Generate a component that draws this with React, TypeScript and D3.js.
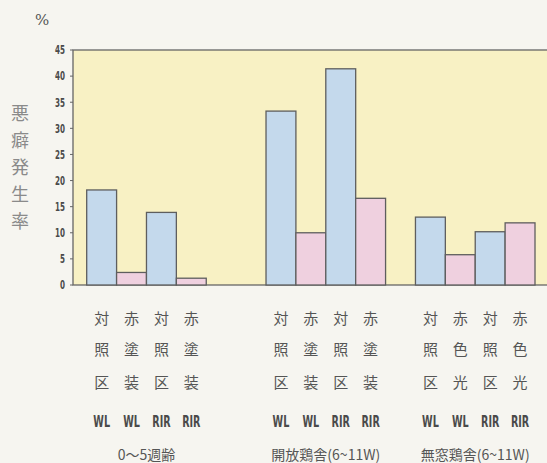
import React from 'react';
import * as d3 from 'd3';

// slot ids (including empty spacer slots between groups)
const slots = ['a1', 'a2', 'a3', 'a4', 'g1', 'g2', 'b1', 'b2', 'b3', 'b4', 'g3', 'c1', 'c2', 'c3', 'c4'];
const barSlots = ['a1', 'a2', 'a3', 'a4', 'b1', 'b2', 'b3', 'b4', 'c1', 'c2', 'c3', 'c4'];
const barValues = [18.2, 2.4, 13.9, 1.3, 33.3, 10.0, 41.4, 16.6, 13.0, 5.8, 10.2, 11.9];
const barKinds = ['control', 'red', 'control', 'red', 'control', 'red', 'control', 'red', 'control', 'red', 'control', 'red'];
const labelLine1 = ['対', '赤', '対', '赤', '対', '赤', '対', '赤', '対', '赤', '対', '赤'];
const labelLine2 = ['照', '塗', '照', '塗', '照', '塗', '照', '塗', '照', '色', '照', '色'];
const labelLine3 = ['区', '装', '区', '装', '区', '装', '区', '装', '区', '光', '区', '光'];
const labelLine4 = ['WL', 'WL', 'RIR', 'RIR', 'WL', 'WL', 'RIR', 'RIR', 'WL', 'WL', 'RIR', 'RIR'];
const groupLabels = ['0～5週齢', '開放鶏舎(6~11W)', '無窓鶏舎(6~11W)'];
const groupSlots = [['a1', 'a4'], ['b1', 'b4'], ['c1', 'c4']];
const yTicks = [0, 5, 10, 15, 20, 25, 30, 35, 40, 45];
const yTitle = ['悪', '癖', '発', '生', '率'];

const W = 547;
const H = 463;
const plot = { left: 73, right: 560, top: 50, bottom: 285 };

const colors: Record<string, string> = { control: '#c4d9ec', red: '#efd0df' };
const numFont = 'DejaVu Sans, sans-serif';
const cjkFont = 'Noto Sans CJK JP, sans-serif';

// condensed text: squeeze horizontally around its anchor point
const Narrow = ({ x, y, size, anchor, children }: any) => (
  <text transform={`translate(${x},${y}) scale(0.6,1)`} dy="0.36em" textAnchor={anchor}
    fontFamily={numFont} fontWeight="bold" fontSize={size} fill="#4a4a4a">{children}</text>
);

export default function App() {
  const x = d3.scaleBand<string>().domain(slots).range([86.7, 535]).padding(0);
  const y = d3.scaleLinear().domain([0, 45]).range([plot.bottom, plot.top]);
  const bw = x.bandwidth();
  const cx = (s: string) => (x(s) || 0) + bw / 2;
  const rows = [labelLine1, labelLine2, labelLine3];
  const rowY = [318.5, 350, 382.5];

  return (
    <svg width={W} height={H} style={{ position: 'absolute', left: 0, top: 0, display: 'block' }}>
      <rect x={0} y={0} width={W} height={H} fill="#f6f5f0" />
      <rect x={plot.left} y={plot.top} width={plot.right - plot.left} height={plot.bottom - plot.top}
        fill="#f8f1c4" stroke="#666" strokeWidth={1.3} />

      {barSlots.map((s, i) => (
        <rect key={s} x={x(s)} y={y(barValues[i])} width={bw} height={y(0) - y(barValues[i])}
          fill={colors[barKinds[i]]} stroke="#5e5e5e" strokeWidth={1.3} />
      ))}

      {yTicks.map(t => (
        <g key={t}>
          <line x1={plot.left - 3} x2={plot.left} y1={y(t)} y2={y(t)} stroke="#666" />
          <Narrow x={plot.left - 8} y={y(t)} size={12} anchor="end">{t}</Narrow>
        </g>
      ))}

      <text x={35} y={25} fontFamily="DejaVu Serif, serif" fontSize={15} fill="#555">%</text>
      {yTitle.map((c, i) => (
        <text key={i} x={20} y={114 + i * 27} dy="0.35em" textAnchor="middle" fontFamily={cjkFont}
          fontSize={18} fill="#8a8a8a">{c}</text>
      ))}

      {rows.map((row, r) => row.map((c, i) => (
        <text key={`${r}-${i}`} x={cx(barSlots[i])} y={rowY[r]} dy="0.35em" textAnchor="middle"
          fontFamily={cjkFont} fontSize={15} fill="#555">{c}</text>
      )))}
      {labelLine4.map((c, i) => (
        <Narrow key={`l4-${i}`} x={cx(barSlots[i])} y={421} size={16} anchor="middle">{c}</Narrow>
      ))}
      {groupLabels.map((g, i) => (
        <text key={g} x={(cx(groupSlots[i][0]) + cx(groupSlots[i][1])) / 2} y={455} dy="0.35em"
          textAnchor="middle" fontFamily={cjkFont} fontSize={14} fill="#555">{g}</text>
      ))}
    </svg>
  );
}
